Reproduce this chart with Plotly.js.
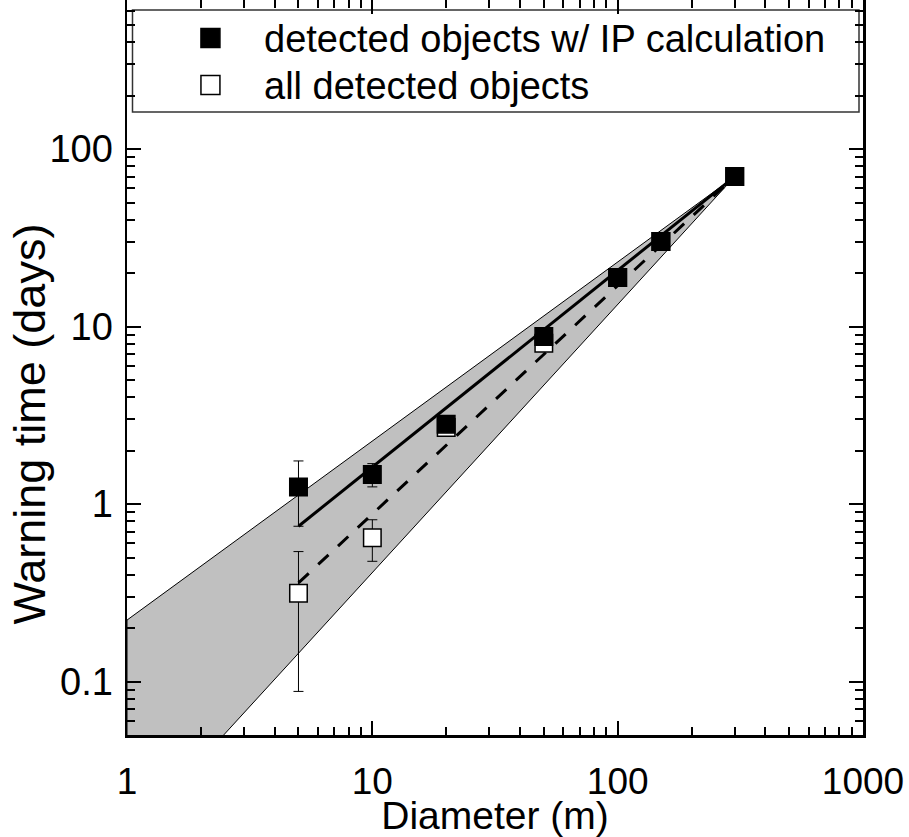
<!DOCTYPE html>
<html>
<head>
<meta charset="utf-8">
<script src="https://cdn.plot.ly/plotly-3.0.1.min.js"></script>
<style>html,body{margin:0;padding:0;background:#fff;}#chart{width:909px;height:837px;}</style>
</head>
<body>
<div id="chart"></div>
<script>
// Diameter of objects (m)
var diameters = [5, 10, 20, 50, 100, 150, 300];
// Warning time (days) — detected objects with IP calculation
var ipTime = [1.25, 1.47, 2.82, 8.8, 18.9, 30.2, 70];
var ipErr  = [0.5, 0.22, null, null, null, null, null];
// Warning time (days) — all detected objects
var allTime = [0.314, 0.646, 2.7, 8.05, 18.9, 30.2, 70];
var allErr  = [0.226, 0.17, null, null, null, null, null];
// Power-law fit lines
var fitX = [5, 300];
var fitIP = [0.75, 70];
var fitAll = [0.36, 70];
// Uncertainty band (polygon vertices)
var bandX = [1, 300, 1, 1];
var bandY = [0.222, 70, 0.0127, 0.222];
// Tick labels
var xTicks = [1, 10, 100, 1000];
var xTickText = ['1', '10', '100', '1000'];
var yTicks = [0.1, 1, 10, 100];
var yTickText = ['0.1', '1', '10', '100'];
// Legend labels
var seriesNames = ['detected objects w/ IP calculation', 'all detected objects'];

var FONT = 'Liberation Sans, Arial, sans-serif';

var traces = [
  {x: bandX, y: bandY, mode: 'lines', fill: 'toself', fillcolor: '#c0c0c0',
   line: {color: '#000', width: 1}, showlegend: false, hoverinfo: 'skip'},
  {x: fitX, y: fitIP, mode: 'lines', line: {color: '#000', width: 3}, showlegend: false},
  {x: fitX, y: fitAll, mode: 'lines', line: {color: '#000', width: 3, dash: '14px,13px'}, showlegend: false},
  {x: diameters, y: allTime, mode: 'markers', name: seriesNames[1], showlegend: false,
   marker: {symbol: 'square', size: 17.5, color: '#fff', line: {color: '#000', width: 1.5}},
   error_y: {type: 'data', array: allErr, color: '#000', thickness: 1, width: 5}},
  {x: diameters, y: ipTime, mode: 'markers', name: seriesNames[0], showlegend: false,
   marker: {symbol: 'square', size: 17.5, color: '#000', line: {color: '#000', width: 1.5}},
   error_y: {type: 'data', array: ipErr, color: '#000', thickness: 1, width: 5}}
];

// plot area in pixels: left 126.5, width 736.5, top 0, height 735
function px2x(p) { return (p - 126.5) / 736.5; }
function px2y(p) { return 1 - p / 735; }

var legendRows = [38, 85];
var legendFills = ['#000', '#fff'];
var shapes = [
  {type: 'rect', xref: 'paper', yref: 'paper', x0: px2x(132), x1: px2x(859), y0: px2y(112), y1: px2y(10),
   line: {color: '#333', width: 1.5}, fillcolor: '#fff', layer: 'below'}
];
var annotations = [];
legendRows.forEach(function (cy, i) {
  shapes.push({type: 'rect', xref: 'paper', yref: 'paper',
    x0: px2x(200.5), x1: px2x(219.5), y0: px2y(cy + 9.5), y1: px2y(cy - 9.5),
    line: {color: '#000', width: 1.5}, fillcolor: legendFills[i], layer: 'above'});
  annotations.push({xref: 'paper', yref: 'paper', x: px2x(262), y: px2y(cy + 1),
    xanchor: 'left', yanchor: 'middle', showarrow: false, text: seriesNames[i],
    font: {size: 38, family: FONT, color: '#000'}});
});
annotations.push({xref: 'paper', yref: 'paper', x: px2x(28), y: px2y(424),
  xanchor: 'center', yanchor: 'middle', showarrow: false, textangle: -90,
  text: 'Warning time (days)', font: {size: 45, family: FONT, color: '#000'}});

var layout = {
  width: 909, height: 837,
  margin: {l: 126.5, r: 46, t: 0, b: 102, pad: 0},
  paper_bgcolor: '#fff', plot_bgcolor: '#fff',
  font: {family: FONT, color: '#000', size: 37},
  showlegend: false,
  xaxis: {type: 'log', range: [0, 3], tickvals: xTicks, ticktext: xTickText,
          ticks: 'inside', ticklen: 14, tickwidth: 2, tickcolor: '#000',
          showline: true, linecolor: '#000', linewidth: 2.5, mirror: 'ticks',
          showgrid: false, zeroline: false,
          minor: {ticks: 'inside', ticklen: 8, tickwidth: 2, tickcolor: '#000', dtick: 'D1', showgrid: false},
          tickfont: {size: 37, family: FONT}, ticklabelstandoff: 12,
          title: {text: 'Diameter (m)', font: {size: 39, family: FONT}, standoff: 0}},
  yaxis: {type: 'log', range: [Math.log10(0.05), 2.84], tickvals: yTicks, ticktext: yTickText,
          ticks: 'inside', ticklen: 14, tickwidth: 2, tickcolor: '#000',
          showline: true, linecolor: '#000', linewidth: 2.5, mirror: 'ticks',
          showgrid: false, zeroline: false,
          minor: {ticks: 'inside', ticklen: 8, tickwidth: 2, tickcolor: '#000', dtick: 'D1', showgrid: false},
          tickfont: {size: 38, family: FONT}, ticklabelstandoff: 4},
  shapes: shapes,
  annotations: annotations
};

Plotly.newPlot('chart', traces, layout, {displayModeBar: false, staticPlot: true});
</script>
</body>
</html>
